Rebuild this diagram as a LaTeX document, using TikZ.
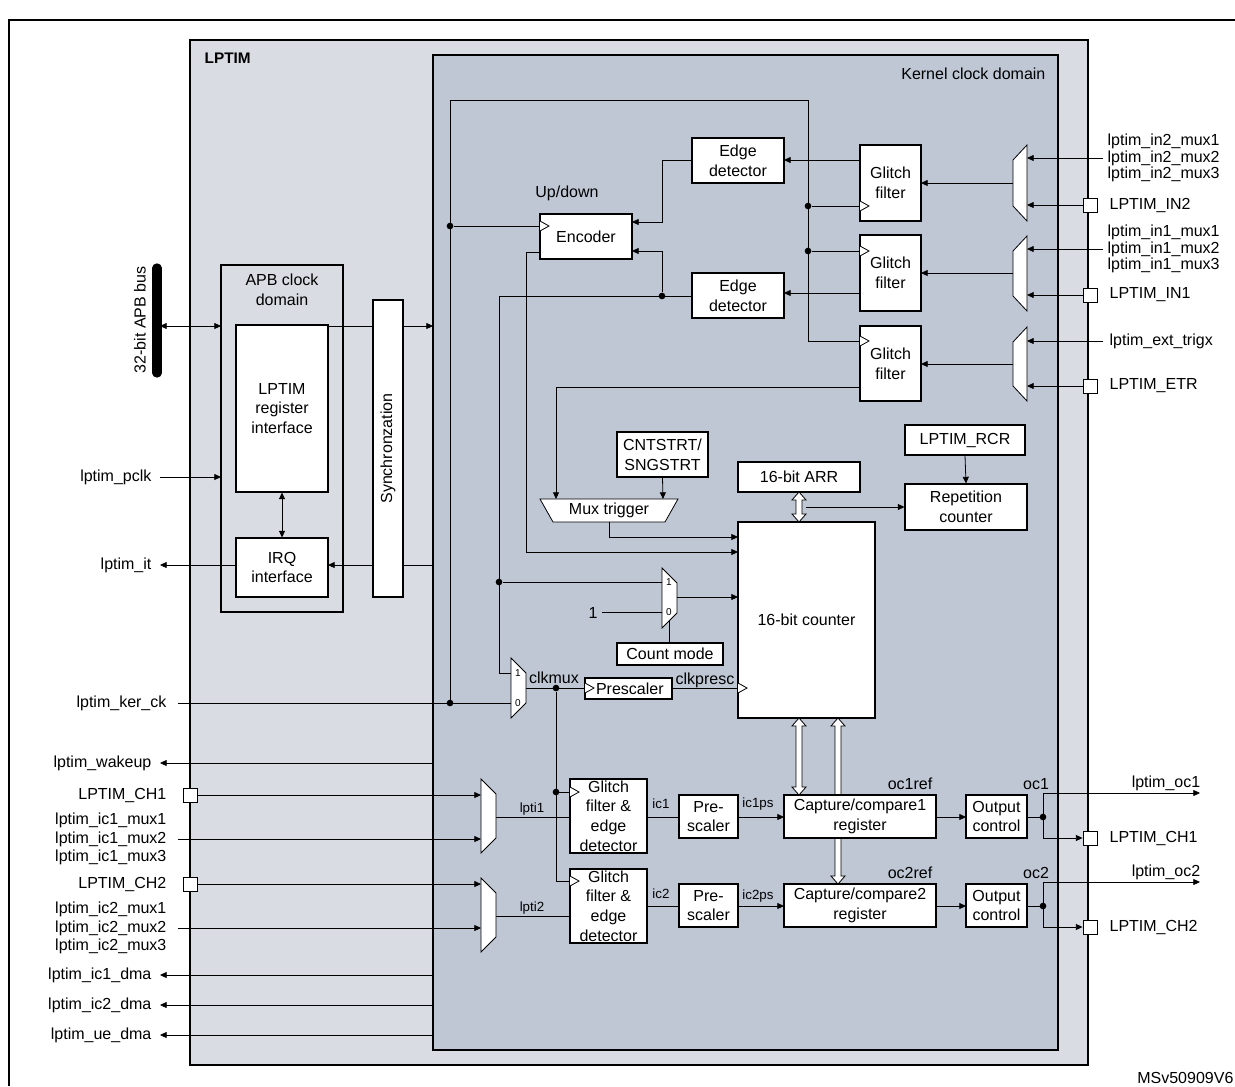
\documentclass[tikz,border=0pt]{standalone}
\usepackage{fontspec}
\setmainfont{Liberation Sans}
\usetikzlibrary{arrows.meta,fit}
\newcommand\bx[4]{\path (#2) coordinate (#1a) (#3) coordinate (#1b);
  \node[box,fit=(#1a)(#1b)] (#1) {};
  \node[align=center,font=\bxfont] at (#1) {#4};}
\newcommand\bxfont{\fontsize{12}{14.8}\selectfont}
\newcommand\lbfont{\fontsize{12}{14}\selectfont}
\newcommand\clk[2]{\draw[sig,fill=white] ({#1},{#2-5})--({#1+9},{#2})--({#1},{#2+5});}
\newcommand\hdarrow[3]{\begin{scope}[shift={(#1,#2)}]
 \filldraw[fill=white,sig] (0,0)--(7,8)--(3,8)--(3,{#3-8})--(7,{#3-8})--(0,{#3})--(-7,{#3-8})--(-3,{#3-8})--(-3,8)--(-7,8)--cycle;
 \end{scope}}
\tikzset{
 box/.style={draw,fill=white,inner sep=0pt,line width=0.8pt},
 sig/.style={line width=0.6pt},
 arr/.style={sig,-{Triangle[length=5pt,width=4.5pt]}},
 darr/.style={sig,{Triangle[length=5pt,width=4.5pt]}-{Triangle[length=5pt,width=4.5pt]}},
 dot/.style={circle,fill,inner sep=0pt,minimum size=5pt},
 pad/.style={draw,fill=white,minimum size=10.5pt,inner sep=0pt,line width=0.7pt},
 lbl/.style={inner sep=1pt,font=\lbfont},
 small/.style={inner sep=1pt,font=\fontsize{10}{11}\selectfont},
 tiny/.style={inner sep=0pt,font=\fontsize{7.5}{8}\selectfont},
}
\begin{document}
\begin{tikzpicture}[x=0.75pt,y=-0.75pt]
\useasboundingbox (0,0) rectangle (1235,1086);
\fill[white] (0,0) rectangle (1235,1086);
% frame
\draw[line width=1.5pt] (1235,20)--(9,20)--(9,1086);
% LPTIM
\draw[fill={rgb,255:red,217;green,221;blue,227},line width=1.5pt] (190,40) rectangle (1088,1065);
\node[anchor=west,font=\fontsize{11.5}{13}\selectfont\bfseries] (lptim) at (200,58) {LPTIM};
% Kernel
\draw[fill={rgb,255:red,191;green,199;blue,213},line width=1.2pt] (433,55) rectangle (1058,1050);
\node[lbl,anchor=east] (kcd) at (1047,74) {Kernel clock domain};
% APB domain
\draw[fill={rgb,255:red,217;green,221;blue,227},line width=1.5pt] (221,265) rectangle (343,612);
\node[align=center,font=\bxfont] (apb) at (282,290) {APB clock\\domain};
\bx{reg}{236,325}{328,492}{LPTIM\\register\\interface}
\bx{irq}{236,538}{328,597}{IRQ\\interface}
\draw[darr] (reg.south)--(irq.north);
% bus
\draw[line width=7pt,line cap=round] (157,268)--(157,373);
\coordinate (bus) at (160,326);
\node[lbl,rotate=90] (busl) at (140,320) {32-bit APB bus};
\draw[darr] (bus)--(221,326);
\node[lbl,anchor=east] (pclk) at (153,477) {lptim\_pclk};
\coordinate (pclke) at (160,477);
\draw[arr] (pclke)--(221,477);
\node[lbl,anchor=east] (it) at (153,565) {lptim\_it};
\coordinate (ite) at (160,565);
\draw[arr] (irq.west |- ite)--(ite);
% sync
\draw[arr] (328,326)--(433,326);
\draw[arr] (433,565)--(328,565);
\bx{sync}{373,300}{403,597}{}
\node[font=\bxfont,rotate=90] at (sync) {Synchronzation};

% ===== top kernel =====
\bx{enc}{540,214}{632,259}{Encoder}
\clk{540}{226}
\node[lbl] (ud) at (567,193) {Up/down};
\bx{ed1}{692,138}{784,183}{Edge\\detector}
\bx{ed2}{692,273}{784,318}{Edge\\detector}
\bx{g1}{860,145}{921,221}{Glitch\\filter}
\bx{g2}{860,235}{921,311}{Glitch\\filter}
\bx{g3}{860,326}{921,401}{Glitch\\filter}
% clock tree
\draw[sig] (450,703)--(450,100)--(808,100)--(808,341)--(860,341);
\node[dot] (d1) at (808,206) {}; \node[dot] (d2) at (808,251) {};
\draw[sig] (d1)--(860,206); \draw[sig] (d2)--(860,251);
\clk{860}{206}\clk{860}{251}\clk{860}{341}
\node[dot] (d3) at (450,226) {};
\draw[sig] (d3)--(540,226);
% glitch -> edge
\draw[arr] (860,160)--(784,160);
\draw[arr] (860,293)--(784,293);
\draw[arr] (692,160)--(662,160)--(662,222)--(632,222);
\node[dot] (d4) at (662,296) {};
\draw[arr] (d4)--(662,251)--(632,251);
\draw[sig] (692,296)--(499,296)--(499,673)--(511,673);
\node[dot] (d5) at (499,582) {};
\draw[sig] (d5)--(662,582);
% encoder out
\draw[arr] (540,252)--(526,252)--(526,552)--(738,552);
% right inputs
\foreach \t/\b/\o in {145/221/183,236/311/273,327/401/364}{
 \filldraw[fill=white,sig] (1027,\t)--(1027,\b)--(1013,\b-15)--(1013,\t+15)--cycle;
 \draw[arr] (1013,\o)--(921,\o);}
\node[lbl,anchor=west,align=left,font=\fontsize{12}{12.5}\selectfont] (in2m) at (1106,158) {lptim\_in2\_mux1\\lptim\_in2\_mux2\\lptim\_in2\_mux3};
\draw[arr] (1103,158)--(1027,158);
\node[pad] (pin2) at (1090,205) {};
\node[lbl,anchor=west] at (1108,205) {LPTIM\_IN2};
\draw[arr] (pin2.west)--(1027,205);
\node[lbl,anchor=west,align=left,font=\fontsize{12}{12.5}\selectfont] (in1m) at (1106,249) {lptim\_in1\_mux1\\lptim\_in1\_mux2\\lptim\_in1\_mux3};
\draw[arr] (1103,249)--(1027,249);
\node[pad] (pin1) at (1090,295) {};
\node[lbl,anchor=west] at (1108,295) {LPTIM\_IN1};
\draw[arr] (pin1.west)--(1027,295);
\node[lbl,anchor=west] (etx) at (1108,341) {lptim\_ext\_trigx};
\draw[arr] (1103,341)--(1027,341);
\node[pad] (petr) at (1090,386) {};
\node[lbl,anchor=west] at (1108,386) {LPTIM\_ETR};
\draw[arr] (petr.west)--(1027,386);
% trigger
\bx{cnt}{617,432}{708,477}{CNTSTRT/\\SNGSTRT}
\draw[arr] (860,387)--(556,387)--(556,499);
\draw[arr] (cnt.south)--(663,499);
\filldraw[fill=white,sig] (540,499)--(678,499)--(665,522)--(553,522)--cycle;
\node[font=\bxfont] (mux) at (609,510) {Mux trigger};
\bx{arr}{738,462}{860,492}{16-bit ARR}
\bx{rcr}{905,425}{1025,455}{LPTIM\_RCR}
\bx{rep}{905,484}{1027,530}{Repetition\\counter}
\draw[arr] (rcr.south)--(rep.north);
\draw[arr] (806,507)--(rep.west|-0,507);
\draw[arr] (609,522)--(609,537)--(738,537);
% count mode
\filldraw[fill=white,sig] (662,568)--(677,583)--(677,613)--(662,628)--cycle;
\node[tiny] at (669,582) {1}; \node[tiny] at (669,612) {0};
\node[lbl] (one) at (593,613) {1};
\draw[sig] (602,612)--(662,612);
\bx{cm}{617,643}{723,665}{Count mode}
\draw[sig] (669,621)--(669,643);
\draw[arr] (677,597)--(738,597);
% clkmux
\filldraw[fill=white,sig] (511,658)--(526,673)--(526,703)--(511,718)--cycle;
\node[tiny] at (518,673) {1}; \node[tiny] at (518,703) {0};
\node[lbl,anchor=east] (ker) at (168,703) {lptim\_ker\_ck};
\draw[sig] (178,703)--(511,703);
\node[dot] at (450,703) {};
\node[lbl] at (554,678) {clkmux};
\bx{pre}{585,678}{672,699}{\,Prescaler}
\clk{585}{688}
\draw[sig] (526,688)--(585,688);
\node[dot] (d6) at (556,688) {};
\node[lbl] at (705,680) {clkpresc};
% arrows between counter and CC (behind)
\hdarrow{838}{718}{166}
\bx{ctr}{738,522}{875,718}{16-bit counter}
\draw[sig] (672,688)--(738,688);
\clk{738}{688}
\hdarrow{799}{492}{30}
\hdarrow{799}{718}{77}

% ===== bottom =====
\node[lbl,anchor=east] (wk) at (153,763) {lptim\_wakeup};
\draw[arr] (433,763)--(160,763);
\foreach \t/\b in {779/853,878/952}{
 \filldraw[fill=white,sig] (481,\t)--(496,\t+15)--(496,\b-15)--(481,\b)--cycle;}
\node[pad] (pch1) at (190,795) {};
\node[lbl,anchor=east] at (168,795) {LPTIM\_CH1};
\draw[arr] (pch1.east)--(481,795);
\node[lbl,anchor=east,align=right] at (168,839) {lptim\_ic1\_mux1\\lptim\_ic1\_mux2\\lptim\_ic1\_mux3};
\draw[arr] (178,839)--(481,839);
\node[pad] (pch2) at (190,884) {};
\node[lbl,anchor=east] at (168,884) {LPTIM\_CH2};
\draw[arr] (pch2.east)--(481,884);
\node[lbl,anchor=east,align=right] at (168,928) {lptim\_ic2\_mux1\\lptim\_ic2\_mux2\\lptim\_ic2\_mux3};
\draw[arr] (178,928)--(481,928);
\foreach \y/\n in {975/ic1\_dma,1005/ic2\_dma,1035/ue\_dma}{
 \node[lbl,anchor=east] at (153,\y) {lptim\_\n};
 \draw[arr] (433,\y)--(160,\y);}
% ic chain
\bx{gf1}{570,779}{647,853}{\fontsize{12}{13.6}\selectfont Glitch\\filter \&\\edge\\detector}
\bx{gf2}{570,869}{647,943}{\fontsize{12}{13.6}\selectfont Glitch\\filter \&\\edge\\detector}
\draw[sig] (d6)--(556,881)--(570,881);
\node[dot] at (556,792) {};
\draw[sig] (556,792)--(570,792);
\clk{570}{792}\clk{570}{881}
\draw[sig] (496,817)--(570,817); \node[small,anchor=south] at (532,817) {lpti1};
\draw[sig] (496,916)--(570,916); \node[small,anchor=south] at (532,916) {lpti2};
\bx{ps1}{679,795}{738,838}{Pre-\\scaler}
\bx{ps2}{679,884}{738,927}{Pre-\\scaler}
\bx{cc1}{784,795}{936,838}{Capture/compare1\\register}
\bx{cc2}{784,884}{936,927}{Capture/compare2\\register}
\bx{oc1}{966,795}{1027,838}{Output\\control}
\bx{oc2}{966,884}{1027,927}{Output\\control}
\draw[sig] (647,817)--(679,817); \node[small] at (661,804) {ic1};
\draw[sig] (647,906)--(679,906); \node[small] at (661,894) {ic2};
\draw[arr] (738,817)--(784,817); \node[small] at (758,804) {ic1ps};
\draw[arr] (738,906)--(784,906); \node[small] at (758,896) {ic2ps};
\draw[arr] (936,817)--(966,817);
\draw[arr] (936,906)--(966,906);
\node[lbl] at (910,784) {oc1ref}; \node[lbl] at (1036,784) {oc1};
\node[lbl] at (910,873) {oc2ref}; \node[lbl] at (1036,873) {oc2};
\node[pad] (pc1) at (1090,838) {};
\node[pad] (pc2) at (1090,927) {};
\node[lbl,anchor=west] at (1108,838) {LPTIM\_CH1};
\node[lbl,anchor=west] at (1108,927) {LPTIM\_CH2};
\node[dot] at (1043,817) {}; \node[dot] at (1043,906) {};
\draw[sig] (1027,817)--(1043,817);
\draw[sig] (1027,906)--(1043,906);
\draw[arr] (1043,817)--(1043,793)--(1200,793);
\draw[arr] (1043,817)--(1043,838)--(pc1.west);
\draw[arr] (1043,906)--(1043,882)--(1200,882);
\draw[arr] (1043,906)--(1043,927)--(pc2.west);
\node[lbl] at (1166,783) {lptim\_oc1};
\node[lbl] at (1166,872) {lptim\_oc2};
\node[lbl,anchor=east] at (1235,1078) {MSv50909V6};
\end{tikzpicture}
\end{document}
